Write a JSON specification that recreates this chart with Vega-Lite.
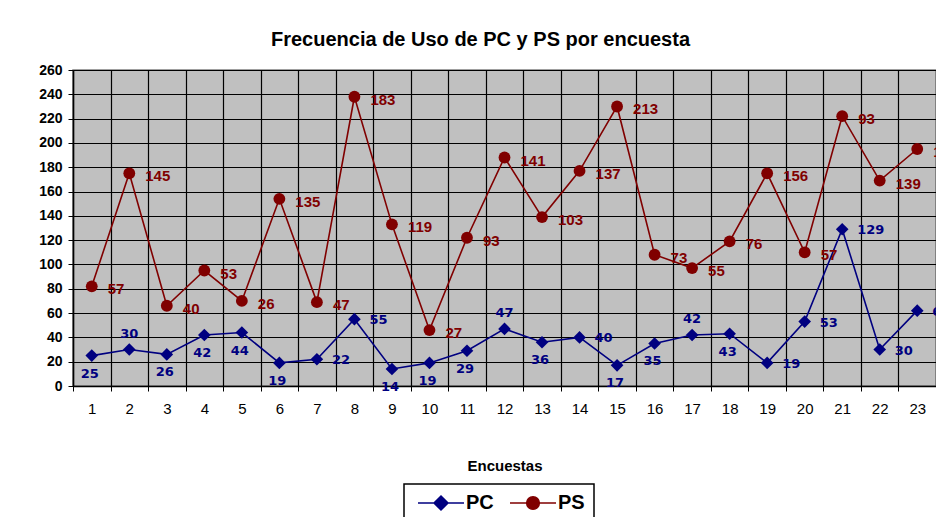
{
  "$schema": "https://vega.github.io/schema/vega-lite/v6.json",
  "autosize": {"type": "none"},
  "padding": {"left": 73, "top": 70, "right": 0, "bottom": 131},
  "width": 863,
  "height": 316,
  "background": "white",
  "config": {
    "font": "Liberation Sans",
    "view": {"fill": "#C0C0C0", "stroke": "#808080", "strokeWidth": 1.5}
  },
  "title": {
    "text": "Frecuencia de Uso de PC y PS por encuesta",
    "fontSize": 20,
    "fontWeight": "bold",
    "font": "Liberation Sans",
    "color": "black",
    "anchor": "middle",
    "dx": -24,
    "offset": 13
  },
  "data": {
    "values": [
      {"encuesta": 1, "serie": "PC", "valor": 25}, {"encuesta": 1, "serie": "PS", "valor": 57},
      {"encuesta": 2, "serie": "PC", "valor": 30}, {"encuesta": 2, "serie": "PS", "valor": 145},
      {"encuesta": 3, "serie": "PC", "valor": 26}, {"encuesta": 3, "serie": "PS", "valor": 40},
      {"encuesta": 4, "serie": "PC", "valor": 42}, {"encuesta": 4, "serie": "PS", "valor": 53},
      {"encuesta": 5, "serie": "PC", "valor": 44}, {"encuesta": 5, "serie": "PS", "valor": 26},
      {"encuesta": 6, "serie": "PC", "valor": 19}, {"encuesta": 6, "serie": "PS", "valor": 135},
      {"encuesta": 7, "serie": "PC", "valor": 22}, {"encuesta": 7, "serie": "PS", "valor": 47},
      {"encuesta": 8, "serie": "PC", "valor": 55}, {"encuesta": 8, "serie": "PS", "valor": 183},
      {"encuesta": 9, "serie": "PC", "valor": 14}, {"encuesta": 9, "serie": "PS", "valor": 119},
      {"encuesta": 10, "serie": "PC", "valor": 19}, {"encuesta": 10, "serie": "PS", "valor": 27},
      {"encuesta": 11, "serie": "PC", "valor": 29}, {"encuesta": 11, "serie": "PS", "valor": 93},
      {"encuesta": 12, "serie": "PC", "valor": 47}, {"encuesta": 12, "serie": "PS", "valor": 141},
      {"encuesta": 13, "serie": "PC", "valor": 36}, {"encuesta": 13, "serie": "PS", "valor": 103},
      {"encuesta": 14, "serie": "PC", "valor": 40}, {"encuesta": 14, "serie": "PS", "valor": 137},
      {"encuesta": 15, "serie": "PC", "valor": 17}, {"encuesta": 15, "serie": "PS", "valor": 213},
      {"encuesta": 16, "serie": "PC", "valor": 35}, {"encuesta": 16, "serie": "PS", "valor": 73},
      {"encuesta": 17, "serie": "PC", "valor": 42}, {"encuesta": 17, "serie": "PS", "valor": 55},
      {"encuesta": 18, "serie": "PC", "valor": 43}, {"encuesta": 18, "serie": "PS", "valor": 76},
      {"encuesta": 19, "serie": "PC", "valor": 19}, {"encuesta": 19, "serie": "PS", "valor": 156},
      {"encuesta": 20, "serie": "PC", "valor": 53}, {"encuesta": 20, "serie": "PS", "valor": 57},
      {"encuesta": 21, "serie": "PC", "valor": 129}, {"encuesta": 21, "serie": "PS", "valor": 93},
      {"encuesta": 22, "serie": "PC", "valor": 30}, {"encuesta": 22, "serie": "PS", "valor": 139},
      {"encuesta": 23, "serie": "PC", "valor": 62}, {"encuesta": 23, "serie": "PS", "valor": 133}
    ]
  },
  "transform": [
    {"stack": "valor", "groupby": ["encuesta"], "sort": [{"field": "serie", "order": "ascending"}], "as": ["v0", "v1"]}
  ],
  "encoding": {
    "x": {
      "field": "encuesta",
      "type": "quantitative",
      "scale": {"domain": [0.5, 23.5], "nice": false, "zero": false},
      "axis": {
        "title": "Encuestas",
        "titleFont": "Liberation Sans",
        "titleFontSize": 15,
        "titleFontWeight": "bold",
        "titleColor": "black",
        "titlePadding": 42,
        "values": [0.5, 1.5, 2.5, 3.5, 4.5, 5.5, 6.5, 7.5, 8.5, 9.5, 10.5, 11.5, 12.5, 13.5, 14.5, 15.5, 16.5, 17.5, 18.5, 19.5, 20.5, 21.5, 22.5, 23.5],
        "labelExpr": "datum.value < 23 ? toString(datum.value + 0.5) : ''",
        "labelOffset": 18.76,
        "labelFontSize": 15,
        "labelColor": "black",
        "labelPadding": 10,
        "labelOverlap": false,
        "labelFlush": false,
        "tickSize": 5,
        "tickColor": "black",
        "domainColor": "black",
        "domainWidth": 1.5,
        "grid": true,
        "gridColor": "black",
        "gridOpacity": 1,
        "gridWidth": 1.2
      }
    },
    "y": {
      "field": "v1",
      "type": "quantitative",
      "scale": {"domain": [0, 260], "nice": false},
      "axis": {
        "title": null,
        "values": [0, 20, 40, 60, 80, 100, 120, 140, 160, 180, 200, 220, 240, 260],
        "labelFontSize": 14,
        "labelFontWeight": "bold",
        "labelColor": "black",
        "labelPadding": 6,
        "tickSize": 5,
        "tickColor": "black",
        "domainColor": "black",
        "domainWidth": 1.5,
        "grid": true,
        "gridColor": "black",
        "gridOpacity": 1,
        "gridWidth": 1.2
      }
    }
  },
  "layer": [
    {
      "mark": {"type": "line", "strokeWidth": 1.6},
      "encoding": {
        "color": {
          "field": "serie",
          "type": "nominal",
          "scale": {"domain": ["PC", "PS"], "range": ["#000080", "#800000"]},
          "legend": {
            "title": null,
            "orient": "none",
            "legendX": 331,
            "legendY": 414,
            "direction": "horizontal",
            "strokeColor": "black",
            "padding": 9,
            "symbolSize": 100,
            "symbolStrokeWidth": 1.5,
            "labelFontSize": 20,
            "labelFontWeight": "bold",
            "labelColor": "black",
            "labelOffset": 33,
            "columnPadding": 11,
            "fillColor": "white",
            "encode": {
              "legend": {"update": {"strokeWidth": {"value": 1.5}}},
              "symbols": {
                "update": {
                  "shape": {"signal": "datum.value === 'PC' ? 'M-1,0H8.2M3.6,-1.4L5,0L3.6,1.4L2.2,0Z' : 'M-1,0H8.2M2.33,0A1.27,1.27,0,1,0,4.87,0A1.27,1.27,0,1,0,2.33,0Z'"},
                  "fill": {"signal": "datum.value === 'PC' ? '#000080' : '#800000'"},
                  "stroke": {"signal": "datum.value === 'PC' ? '#000080' : '#800000'"},
                  "strokeWidth": {"value": 1.5},
                  "opacity": {"value": 1}
                }
              }
            }
          }
        }
      }
    },
    {
      "transform": [{"filter": "datum.serie === 'PC'"}],
      "mark": {"type": "point", "shape": "diamond", "filled": true, "size": 160, "color": "#000080", "opacity": 1}
    },
    {
      "transform": [{"filter": "datum.serie === 'PS'"}],
      "mark": {"type": "point", "shape": "circle", "filled": true, "size": 140, "color": "#800000", "opacity": 1}
    },
    {
      "transform": [{"filter": "datum.serie === 'PS'"}],
      "mark": {"type": "text", "align": "left", "baseline": "middle", "dx": 16, "dy": 3, "fontSize": 15, "fontWeight": "bold", "color": "#800000", "font": "Liberation Sans"},
      "encoding": {"text": {"field": "valor", "type": "quantitative"}}
    },
    {
      "transform": [{"filter": "datum.serie === 'PC' && indexof([7, 8, 14, 19, 20, 21, 22, 23], datum.encuesta) >= 0"}],
      "mark": {"type": "text", "align": "left", "baseline": "middle", "dx": 15, "dy": 1, "fontSize": 13, "fontWeight": "bold", "color": "#000080", "font": "DejaVu Sans"},
      "encoding": {"text": {"field": "valor", "type": "quantitative"}}
    },
    {
      "transform": [{"filter": "datum.serie === 'PC' && indexof([2, 12, 17], datum.encuesta) >= 0"}],
      "mark": {"type": "text", "align": "center", "baseline": "middle", "dx": 0, "dy": -16, "fontSize": 13, "fontWeight": "bold", "color": "#000080", "font": "DejaVu Sans"},
      "encoding": {"text": {"field": "valor", "type": "quantitative"}}
    },
    {
      "transform": [{"filter": "datum.serie === 'PC' && indexof([1, 3, 4, 5, 6, 9, 10, 11, 13, 15, 16, 18], datum.encuesta) >= 0"}],
      "mark": {"type": "text", "align": "center", "baseline": "middle", "dx": -2, "dy": 18, "fontSize": 13, "fontWeight": "bold", "color": "#000080", "font": "DejaVu Sans"},
      "encoding": {"text": {"field": "valor", "type": "quantitative"}}
    }
  ]
}
